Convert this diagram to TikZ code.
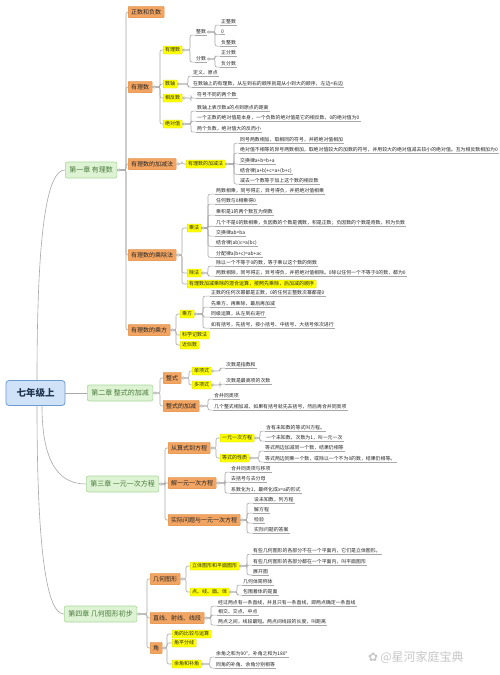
\documentclass[tikz,border=0pt]{standalone}
\usepackage{fontspec}
\setmainfont{Noto Sans CJK SC}
\newfontfamily\dejavu{DejaVu Sans}
\definecolor{lineg}{HTML}{A8A8A8}
\definecolor{rootf}{HTML}{CFE2F7}
\definecolor{rootb}{HTML}{6C9BD2}
\definecolor{roott}{HTML}{1F3550}
\definecolor{chapf}{HTML}{DDF3D3}
\definecolor{chapb}{HTML}{A9D89A}
\definecolor{chapt}{HTML}{4A7A3C}
\definecolor{oraf}{HTML}{F2A562}
\definecolor{orab}{HTML}{DE8A40}
\definecolor{yelf}{HTML}{FFFF00}
\definecolor{yelb}{HTML}{D6D600}
\tikzset{
 conn/.style={draw=lineg, line width=0.6pt, rounded corners=2pt},
 knobc/.style={draw=lineg, fill=white, line width=0.45pt},
 rootbox/.style={draw=rootb, fill=rootf, line width=0.8pt, rounded corners=3pt, minimum width=59pt, minimum height=25pt, font=\fontsize{9.5}{11}\selectfont\bfseries, text=roott, inner sep=2pt},
 chap/.style={draw=chapb, fill=chapf, line width=0.6pt, rounded corners=2pt, minimum height=16pt, inner xsep=4pt, font=\fontsize{7}{8}\selectfont, text=chapt, anchor=west},
 ora/.style={draw=orab, fill=oraf, line width=0.4pt, rounded corners=1pt, minimum height=11.5pt, inner xsep=3pt, inner ysep=1pt, font=\fontsize{6}{7}\selectfont, text=black!85, anchor=west},
 yel/.style={draw=yelb, fill=yelf, line width=0.3pt, rounded corners=0.8pt, minimum height=8pt, inner xsep=2pt, inner ysep=0.5pt, font=\fontsize{5}{6}\selectfont, text=black!85, anchor=west},
 leaf/.style={anchor=west, inner xsep=1pt, inner ysep=0.6pt, font=\fontsize{4.9}{5.5}\selectfont, text=black!85,
   append after command={(\tikzlastnode.south west) edge[draw=lineg, line width=0.6pt] (\tikzlastnode.south east)}},
 wm/.style={anchor=west, text=black!22, font=\fontsize{12}{14}\selectfont, inner sep=0pt},
}
\newcommand\cb[3]{\coordinate (sp) at (#3,0); \draw[conn] (#1.east) -- (#1.east -| sp) |- (#2.west);}
\newcommand\cl[3]{\coordinate (sp) at (#3,0); \draw[conn] (#1.east) -- (#1.east -| sp) |- (#2.south west);}
\newcommand\kb[1]{\draw[knobc] ([xshift=1.8pt]#1.east) circle (1.3pt);}
\begin{document}
\begin{tikzpicture}[x=1pt,y=-1pt]
\fill[white] (0,0) rectangle (500,675);
\useasboundingbox (0,0) rectangle (500,675);

% root and chapters
\node[rootbox] (R) at (35.5,393) {七年级上};
\node[chap] (C1) at (65,170) {第一章 有理数};
\node[chap] (C2) at (87,393) {第二章 整式的加减};
\node[chap] (C3) at (86,484) {第三章 一元一次方程};
\node[chap] (C4) at (64,614) {第四章 几何图形初步};

% chapter 1
\node[ora] (A1) at (128,12) {正数和负数};
\node[ora] (A2) at (128,87) {有理数};
\node[ora] (A3) at (128,164) {有理数的加减法};
\node[ora] (A4) at (128,255) {有理数的乘除法};
\node[ora] (A5) at (128,330) {有理数的乘方};

\node[yel] (B1) at (163,50) {有理数};
\node[yel] (B2) at (163,84) {数轴};
\node[yel] (B3) at (163,98) {相反数};
\node[yel] (B4) at (163,124) {绝对值};

\node[leaf] (D1) at (195,32) {整数};
\node[leaf] (D2) at (195,59) {分数};
\node[leaf] (G1) at (220,22) {正整数};
\node[leaf] (G2) at (220,32) {0};
\node[leaf] (G3) at (220,43) {负整数};
\node[leaf] (G4) at (220,53) {正分数};
\node[leaf] (G5) at (220,64) {负分数};

\node[leaf] (L1) at (192,73) {定义、原点};
\node[leaf] (L2) at (192,84) {在数轴上的有理数，从左到右的顺序就是从小到大的顺序，左边<右边};
\node[leaf] (L3) at (196,95) {符号不同的两个数};
\node[leaf] (L4) at (196,108) {数轴上表示数a的点到原点的距离};
\node[leaf] (L5) at (196,118) {一个正数的绝对值是本身，一个负数的绝对值是它的相反数，0的绝对值为0};
\node[leaf] (L6) at (196,129) {两个负数，绝对值大的反而小};

\node[yel] (B5) at (186,164) {有理数的加减法};
\node[leaf] (L7) at (239,140) {同号两数相加，取相同的符号，并把绝对值相加};
\node[leaf] (L8) at (239,150) {绝对值不相等的异号两数相加，取绝对值较大的加数的符号，并用较大的绝对值减去较小的绝对值。互为相反数相加为0};
\node[leaf] (L9) at (239,161) {交换律a+b=b+a};
\node[leaf] (L10) at (239,171) {结合律(a+b)+c=a+(b+c)};
\node[leaf] (L11) at (239,181) {减去一个数等于加上这个数的相反数};

\node[yel] (B6) at (187,228) {乘法};
\node[yel] (B7) at (187,273) {除法};
\node[yel] (B8) at (187,284) {有理数加减乘除的混合运算，按照先乘除，后加减的顺序};
\node[leaf] (L12) at (215,191) {两数相乘，同号得正，异号得负，并把绝对值相乘};
\node[leaf] (L13) at (215,201) {任何数与0相乘得0};
\node[leaf] (L14) at (215,212) {乘积是1的两个数互为倒数};
\node[leaf] (L15) at (215,223) {几个不是0的数相乘，负因数的个数是偶数，积是正数；负因数的个数是奇数，积为负数};
\node[leaf] (L16) at (215,233) {交换律ab=ba};
\node[leaf] (L17) at (215,243) {结合律(ab)c=a(bc)};
\node[leaf] (L18) at (215,254) {分配律a(b+c)=ab+ac};
\node[leaf] (L19) at (215,263) {除以一个不等于0的数，等于乘以这个数的倒数};
\node[leaf] (L20) at (215,273) {两数相除，同号得正，异号得负，并把绝对值相除。0除以任何一个不等于0的数，都为0};

\node[yel] (B9) at (180,314) {乘方};
\node[yel] (B10) at (180,335) {科学记数法};
\node[yel] (B11) at (180,345) {近似数};
\node[leaf] (L21) at (210,293) {正数的任何次幂都是正数，0的任何正整数次幂都是0};
\node[leaf] (L22) at (210,304) {先乘方，再乘除，最后再加减};
\node[leaf] (L23) at (210,314) {同级运算，从左到右进行};
\node[leaf] (L24) at (210,325) {如有括号，先括号，按小括号、中括号、大括号依次进行};

% chapter 2
\node[ora] (E1) at (163,378) {整式};
\node[ora] (E2) at (163,406) {整式的加减};
\node[yel] (F1) at (192,371) {单项式};
\node[yel] (F2) at (192,385) {多项式};
\node[leaf] (L25) at (225,365) {次数是指数和};
\node[leaf] (L26) at (225,381) {次数是最高项的次数};
\node[leaf] (L27) at (213,396) {合并同类项};
\node[leaf] (L28) at (213,407) {几个整式相加减，如果有括号就先去括号，然后再合并同类项};

% chapter 3
\node[ora] (E3) at (168,448) {从算式到方程};
\node[ora] (E4) at (168,483) {解一元一次方程};
\node[ora] (E5) at (168,520) {实际问题与一元一次方程};
\node[yel] (F3) at (220,438) {一元一次方程};
\node[yel] (F4) at (220,458) {等式的性质};
\node[leaf] (L29) at (265,428) {含有未知数的等式叫方程。};
\node[leaf] (L30) at (265,438) {一个未知数，次数为1，叫一元一次};
\node[leaf] (L31) at (264,448) {等式两边加减同一个数，结果仍相等};
\node[leaf] (L32) at (264,459) {等式两边同乘一个数，或除以一个不为0的数，结果仍相等。};
\node[leaf] (L33) at (230,469) {合并同类项与移项};
\node[leaf] (L34) at (230,479) {去括号与去分母};
\node[leaf] (L35) at (230,490) {系数化为1，最终化成x=a的形式};
\node[leaf] (L36) at (253,500) {设未知数，列方程};
\node[leaf] (L37) at (253,510) {解方程};
\node[leaf] (L38) at (253,520) {检验};
\node[leaf] (L39) at (253,530) {实际问题的答案};

% chapter 4
\node[ora] (E6) at (150,579) {几何图形};
\node[ora] (E7) at (150,618) {直线、射线、线段};
\node[ora] (E8) at (150,648) {角};
\node[yel] (F5) at (190,566) {立体图形和平面图形};
\node[yel] (F6) at (190,592) {点、线、面、体};
\node[yel] (F7) at (172,634) {角的比较与运算};
\node[yel] (F8) at (172,643) {角平分线};
\node[yel] (F9) at (172,664) {余角和补角};
\node[leaf] (L40) at (252,551) {有些几何图形的各部分不在一个平面内，它们是立体图形。};
\node[leaf] (L41) at (252,562) {有些几何图形的各部分都在一个平面内，叫平面图形};
\node[leaf] (L42) at (252,572) {展开图};
\node[leaf] (L43) at (242,582) {几何体简称体};
\node[leaf] (L44) at (242,592) {包围着体的是面};
\node[leaf] (L45) at (217,603) {经过两点有一条直线，并且只有一条直线，即两点确定一条直线};
\node[leaf] (L46) at (217,612) {相交、交点、中点};
\node[leaf] (L47) at (217,622) {两点之间，线段最短。两点间线段的长度，叫距离};
\node[leaf] (L48) at (215,654) {余角之和为90°，补角之和为180°};
\node[leaf] (L49) at (215,665) {同角的补角、余角分别相等};

\node[wm] (WM) at (368,657) {{\dejavu ✿}\,@星河家庭宝典};

% connectors from root (curved)
\draw[conn] ([xshift=1.5pt]R.north) .. controls +(0,-150) and +(-18,0) .. (C1.west);
\draw[conn] ([xshift=1.5pt]R.south) .. controls +(0,140) and +(-18,0) .. (C4.west);
\draw[conn] ([xshift=6.5pt]R.south) .. controls +(0,55) and +(-28,0) .. (C3.west);
\draw[conn] (R.east) -- (C2.west);

\foreach \c in {A1,A2,A3,A4,A5} {\cb{C1}{\c}{126}}
\foreach \c in {B1,B2,B3,B4} {\cb{A2}{\c}{160}}
\cl{B1}{D1}{190} \cl{B1}{D2}{190}
\foreach \c in {G1,G2,G3} {\cl{D1}{\c}{215}}
\foreach \c in {G4,G5} {\cl{D2}{\c}{215}}
\foreach \c in {L1,L2} {\cl{B2}{\c}{188}}
\cl{B3}{L3}{191}
\foreach \c in {L4,L5,L6} {\cl{B4}{\c}{191}}
\cb{A3}{B5}{182}
\foreach \c in {L7,L8,L9,L10,L11} {\cl{B5}{\c}{234}}
\foreach \c in {B6,B7,B8} {\cb{A4}{\c}{182}}
\foreach \c in {L12,L13,L14,L15,L16,L17,L18} {\cl{B6}{\c}{208}}
\foreach \c in {L19,L20} {\cl{B7}{\c}{208}}
\foreach \c in {B9,B10,B11} {\cb{A5}{\c}{176}}
\foreach \c in {L21,L22,L23,L24} {\cl{B9}{\c}{203}}

\foreach \c in {E1,E2} {\cb{C2}{\c}{160}}
\foreach \c in {F1,F2} {\cb{E1}{\c}{189}}
\cl{F1}{L25}{220}
\cl{F2}{L26}{220}
\foreach \c in {L27,L28} {\cl{E2}{\c}{208}}

\foreach \c in {E3,E4,E5} {\cb{C3}{\c}{165}}
\foreach \c in {F3,F4} {\cb{E3}{\c}{216}}
\foreach \c in {L29,L30} {\cl{F3}{\c}{260}}
\foreach \c in {L31,L32} {\cl{F4}{\c}{259}}
\foreach \c in {L33,L34,L35} {\cl{E4}{\c}{225}}
\foreach \c in {L36,L37,L38,L39} {\cl{E5}{\c}{247}}

\foreach \c in {E6,E7,E8} {\cb{C4}{\c}{147}}
\foreach \c in {F5,F6} {\cb{E6}{\c}{186}}
\foreach \c in {L40,L41,L42} {\cl{F5}{\c}{247}}
\foreach \c in {L43,L44} {\cl{F6}{\c}{237}}
\foreach \c in {L45,L46,L47} {\cl{E7}{\c}{211}}
\foreach \c in {F7,F8,F9} {\cb{E8}{\c}{167}}
\foreach \c in {L48,L49} {\cl{F9}{\c}{210}}

% knobs
\foreach \p in {C1,C2,C3,C4,A2,A3,A4,A5,B1,B2,B3,B4,B5,B6,B7,B9,D1,D2,E1,E2,E3,E4,E5,E6,E7,E8,F1,F2,F3,F4,F5,F6,F9} {\kb{\p}}
\end{tikzpicture}
\end{document}
